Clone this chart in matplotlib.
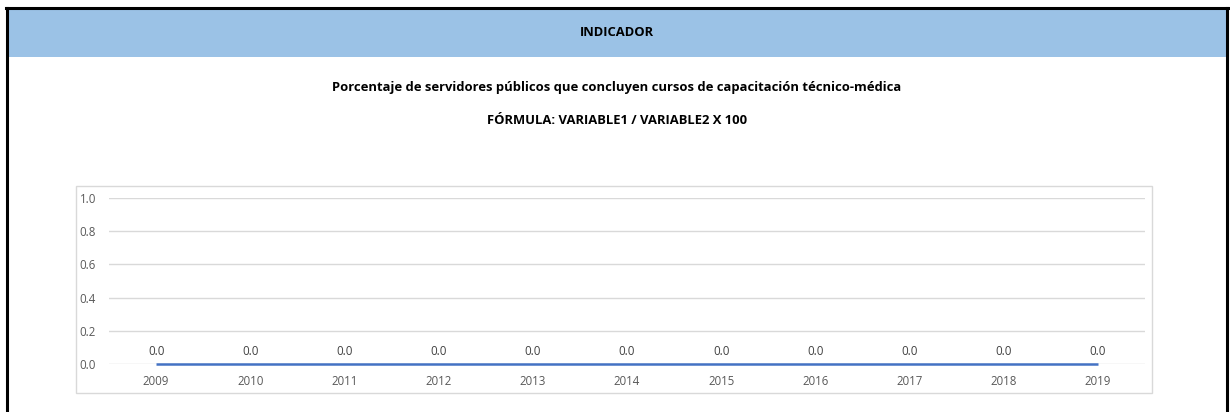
import matplotlib
matplotlib.use("Agg")
import matplotlib.pyplot as plt
from matplotlib.patches import Rectangle

years = ["2009", "2010", "2011", "2012", "2013", "2014", "2015", "2016", "2017", "2018", "2019"]
values = [0.0, 0.0, 0.0, 0.0, 0.0, 0.0, 0.0, 0.0, 0.0, 0.0, 0.0]
yticks = [0.0, 0.2, 0.4, 0.6, 0.8, 1.0]
header = "INDICADOR"
title = "Porcentaje de servidores públicos que concluyen cursos de capacitación técnico-médica"
formula = "FÓRMULA: VARIABLE1 / VARIABLE2 X 100"

W, H = 1230, 412
plt.rcParams['font.family'] = ['Open Sans', 'DejaVu Sans']
fig = plt.figure(figsize=(W / 100, H / 100), dpi=100)

def fx(px):
    return px / W

def fy(py):
    return 1 - py / H

# Header band
fig.patches.append(Rectangle((fx(8), fy(57)), fx(1220), 48 / H, transform=fig.transFigure,
                             facecolor="#9BC2E6", edgecolor="none", zorder=-2))
# Outer black border (open at the bottom)
fig.add_artist(plt.Line2D([fx(7), fx(7)], [fy(8), 0], transform=fig.transFigure, color="black", lw=2.2))
fig.add_artist(plt.Line2D([fx(1227), fx(1227)], [fy(8), 0], transform=fig.transFigure, color="black", lw=2.2))
fig.add_artist(plt.Line2D([fx(6), fx(1228)], [fy(8), fy(8)], transform=fig.transFigure, color="black", lw=2.2))

fig.text(fx(617), fy(32), header, ha="center", va="center", fontsize=9.4, fontweight="bold", color="black")
fig.text(fx(617), fy(87), title, ha="center", va="center", fontsize=9.4, fontweight="bold", color="black")
fig.text(fx(617), fy(121), formula, ha="center", va="center", fontsize=9.4, fontweight="bold", color="black")

# Chart frame
fig.patches.append(Rectangle((fx(76), fy(393)), fx(1152 - 76), (393 - 186) / H, transform=fig.transFigure,
                             facecolor="none", edgecolor="#D9D9D9", lw=1, zorder=-1))

ax = fig.add_axes([fx(109), fy(364), fx(1145 - 109), (364 - 198) / H])
ax.set_facecolor("none")
x = list(range(len(years)))
ax.plot(x, values, color="#4472C4", lw=1.8, solid_capstyle="butt", zorder=3, clip_on=False)
for xi, v in zip(x, values):
    ax.annotate(f"{v:.1f}", (xi, v), xytext=(0, 4.5), textcoords="offset points",
                ha="center", va="bottom", fontsize=8.3, color="#404040")
ax.set_xlim(-0.5, len(years) - 0.5)
ax.set_ylim(0, 1.0)
ax.set_yticks(yticks)
ax.set_yticklabels([f"{t:.1f}" for t in yticks])
ax.set_xticks(x)
ax.set_xticklabels(years)
ax.grid(axis="y", color="#D9D9D9", lw=1)
ax.set_axisbelow(True)
for s in ax.spines.values():
    s.set_visible(False)
ax.tick_params(axis="both", length=0, labelsize=8.3, labelcolor="#595959")
ax.tick_params(axis="y", pad=21)
ax.tick_params(axis="x", pad=8)
for lbl in ax.get_yticklabels():
    lbl.set_horizontalalignment("left")

fig.savefig("out.png", dpi=100)
